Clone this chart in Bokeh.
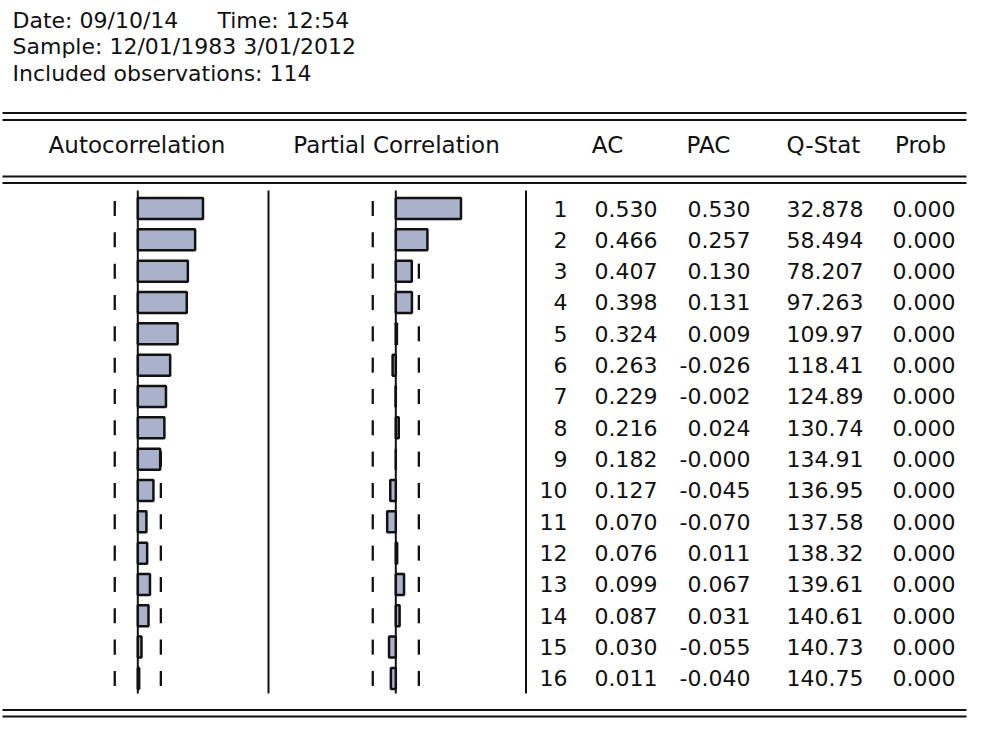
from bokeh.plotting import figure
from bokeh.models import Range1d
from bokeh.core.properties import value
from bokeh.embed import file_html
from bokeh.resources import INLINE
import math

# ---- data ----
lags = [1, 2, 3, 4, 5, 6, 7, 8, 9, 10, 11, 12, 13, 14, 15, 16]
ac = [0.530, 0.466, 0.407, 0.398, 0.324, 0.263, 0.229, 0.216,
      0.182, 0.127, 0.070, 0.076, 0.099, 0.087, 0.030, 0.011]
pac = [0.530, 0.257, 0.130, 0.131, 0.009, -0.026, -0.002, 0.024,
       -0.0, -0.045, -0.070, 0.011, 0.067, 0.031, -0.055, -0.040]
qstat = [32.878, 58.494, 78.207, 97.263, 109.97, 118.41, 124.89, 130.74,
         134.91, 136.95, 137.58, 138.32, 139.61, 140.61, 140.73, 140.75]
prob = [0.000, 0.000, 0.000, 0.000, 0.000, 0.000, 0.000, 0.000,
        0.000, 0.000, 0.000, 0.000, 0.000, 0.000, 0.000, 0.000]
n_obs = 114
info_lines = ["Date: 09/10/14", "Time: 12:54",
              "Sample: 12/01/1983 3/01/2012", "Included observations: 114"]
col_headers = ["Autocorrelation", "Partial Correlation", "AC", "PAC", "Q-Stat", "Prob"]

# ---- layout (screen pixels) ----
W, H = 972, 730
X0, X1 = 0, W
Y0, Y1 = 0, H
ROW0, ROWH = 208.0, 31.33
SCALE = 123.0          # px per unit correlation
ACF_ZERO, PACF_ZERO = 137.3, 395.3

def lag_of(py):
    return (py - ROW0) / ROWH + 1

p = figure(width=W, height=H, x_range=Range1d(X0, X1),
           y_range=Range1d(lag_of(Y1), lag_of(Y0)),
           output_backend="svg", toolbar_location=None, min_border=0,
           x_axis_type=None, y_axis_type=None)
p.outline_line_color = None
p.background_fill_color = "white"
p.border_fill_color = "white"
p.extra_x_ranges = {
    "acf": Range1d((X0 - ACF_ZERO) / SCALE, (X1 - ACF_ZERO) / SCALE),
    "pacf": Range1d((X0 - PACF_ZERO) / SCALE, (X1 - PACF_ZERO) / SCALE),
}
p.extra_y_ranges = {"px": Range1d(Y1, Y0)}

INK = "#111111"
FONT = value("DejaVu Sans")
FS = "22px"
BAR = "#aab2cb"

# horizontal double rules
for yy in [112.5, 119.5, 176.0, 182.5, 709.5, 716.0]:
    p.segment(x0=[2], x1=[966], y0=[yy], y1=[yy], y_range_name="px",
              line_color=INK, line_width=2)

# vertical separators
p.segment(x0=[268, 525.5], x1=[268, 525.5], y0=[190, 190], y1=[693, 693],
          y_range_name="px", line_color=INK, line_width=2)

bound = 2 / math.sqrt(n_obs)
for rng in ["acf", "pacf"]:
    # zero line
    p.segment(x0=[0], x1=[0], y0=[lags[0] - 0.575], y1=[lags[-1] + 0.48],
              x_range_name=rng, line_color=INK, line_width=2)
    # confidence dashes
    for s in (-1, 1):
        p.segment(x0=[s * bound] * len(lags), x1=[s * bound] * len(lags),
                  y0=[l - 0.24 for l in lags], y1=[l + 0.24 for l in lags],
                  x_range_name=rng, line_color=INK, line_width=2.3)

p.hbar(y=lags, left=0, right=ac, height=0.67, x_range_name="acf",
       fill_color=BAR, line_color=INK, line_width=2.5)
p.hbar(y=lags, left=0, right=pac, height=0.67, x_range_name="pacf",
       fill_color=BAR, line_color=INK, line_width=2.5)

def txt(x, y, t, align, rng=None, fs=FS):
    kw = dict(text_font=FONT, text_font_size=fs, text_align=align,
              text_baseline="middle", text_color=INK)
    if rng:
        kw["y_range_name"] = rng
    p.text(x=x, y=y, text=t, **kw)

# info lines
txt([12, 217, 12, 12], [19.5, 19.5, 46.0, 72.5], info_lines, "left", "px")
# column headers
txt([136.5, 396, 607, 708, 823, 920], [144] * 6, col_headers, "center", "px", "23px")

def qfmt(q):
    d = 5 - len(str(int(abs(q))))
    return f"{q:.{max(d, 0)}f}"

txt([567] * len(lags), lags, [str(l) for l in lags], "right")
txt([657] * len(lags), lags, [f"{v:.3f}" for v in ac], "right")
txt([750] * len(lags), lags, [f"{v:.3f}" for v in pac], "right")
txt([863] * len(lags), lags, [qfmt(v) for v in qstat], "right")
txt([955] * len(lags), lags, [f"{v:.3f}" for v in prob], "right")

open("out.html", "w").write(file_html(p, INLINE))
